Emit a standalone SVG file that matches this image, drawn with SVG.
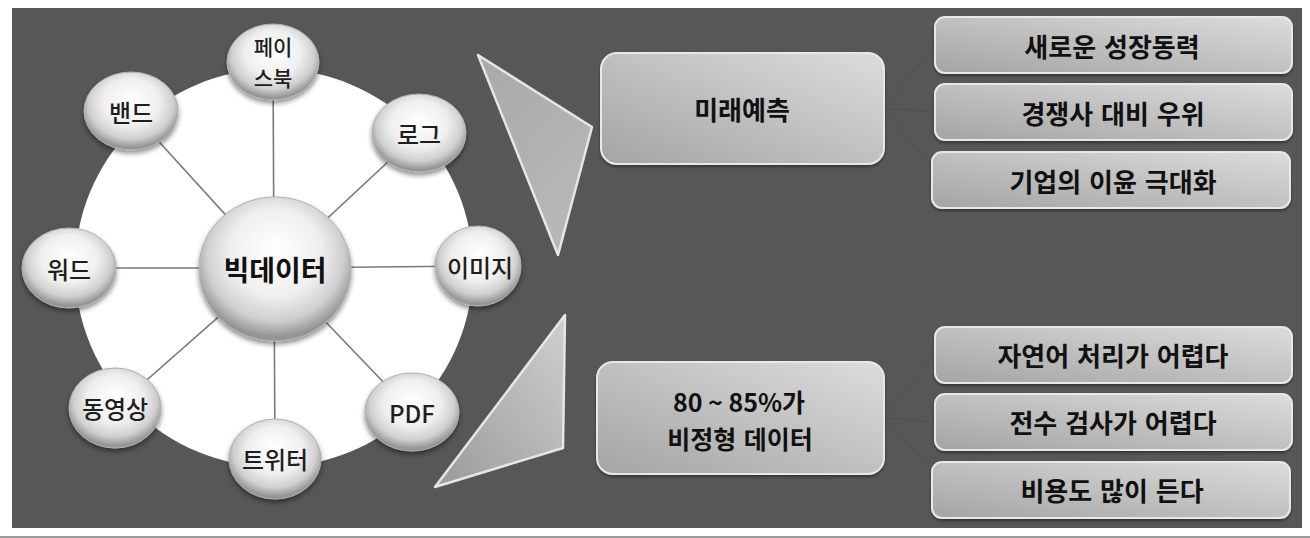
<svg xmlns="http://www.w3.org/2000/svg" width="1310" height="538" viewBox="0 0 1310 538">
<defs>
<radialGradient id="ball" cx="50%" cy="42%" r="55%" fx="50%" fy="35%">
<stop offset="0%" stop-color="#ffffff"/>
<stop offset="55%" stop-color="#efefef"/>
<stop offset="82%" stop-color="#cfcfcf"/>
<stop offset="100%" stop-color="#959595"/>
</radialGradient>
<linearGradient id="boxg" x1="1" y1="0" x2="0" y2="1">
<stop offset="0%" stop-color="#dcdcdc"/>
<stop offset="100%" stop-color="#a4a4a4"/>
</linearGradient>
<linearGradient id="tri1" x1="0" y1="0" x2="0.6" y2="1">
<stop offset="0%" stop-color="#a8a8a8"/>
<stop offset="100%" stop-color="#b8b8b8"/>
</linearGradient>
<linearGradient id="tri2" x1="0" y1="1" x2="1" y2="0">
<stop offset="0%" stop-color="#9a9a9a"/>
<stop offset="100%" stop-color="#cfcfcf"/>
</linearGradient>
<filter id="sh" x="-20%" y="-20%" width="140%" height="150%">
<feDropShadow dx="0" dy="3" stdDeviation="2.5" flood-color="#000" flood-opacity="0.45"/>
</filter>
<filter id="bsh" x="-5%" y="-10%" width="110%" height="130%">
<feDropShadow dx="0" dy="2" stdDeviation="1.5" flood-color="#000" flood-opacity="0.4"/>
</filter>
</defs>
<style>
.sat{fill:url(#ball);stroke:#b0b0b0;stroke-width:1;filter:url(#sh)}
.sat-t{font-family:"Noto Sans CJK KR","Noto Sans",sans-serif;font-size:24px;font-weight:500;fill:#1e1e1e;text-anchor:middle;dominant-baseline:central}
.box{fill:url(#boxg);stroke:#e8e8e8;stroke-width:2;filter:url(#bsh)}
.box-t{font-family:"Noto Sans CJK KR","Noto Sans",sans-serif;font-size:26px;font-weight:700;fill:#111;text-anchor:middle;dominant-baseline:central;word-spacing:2px}
.spoke{stroke:#7a7a7a;stroke-width:1.6}
.faint{stroke:#4f4f4f;stroke-width:1;fill:none}
.tri{stroke:#e6e6e6;stroke-width:2.5;stroke-linejoin:round}
</style>
<rect x="0" y="0" width="1310" height="538" fill="#ffffff"/>
<rect x="12" y="8" width="1290" height="520" fill="#575757"/>
<rect x="0" y="536" width="1310" height="2" fill="#9a9a9a"/>
<circle cx="274" cy="268" r="199" fill="#ffffff"/>

<g id="connectors">
<line class="spoke" x1="274" y1="268" x2="273" y2="62"/>
<line class="spoke" x1="274" y1="268" x2="131" y2="111"/>
<line class="spoke" x1="274" y1="268" x2="419" y2="133"/>
<line class="spoke" x1="274" y1="268" x2="69" y2="268"/>
<line class="spoke" x1="274" y1="268" x2="478" y2="266"/>
<line class="spoke" x1="274" y1="268" x2="115" y2="408"/>
<line class="spoke" x1="274" y1="268" x2="412" y2="412"/>
<line class="spoke" x1="274" y1="268" x2="275" y2="459"/>
<path class="faint" d="M884 108 L935 45 M884 108 L934 112 M884 108 L943 182"/>
<path class="faint" d="M884 418 L935 353 M884 418 L935 422 M884 418 L935 473"/>
</g>

<g id="arrow-upper"><polygon class="tri" fill="url(#tri1)" points="478,55 592,127 558,255"/></g>
<g id="arrow-lower"><polygon class="tri" fill="url(#tri2)" points="565,315 563,448 435,487"/></g>

<g id="node-center"><ellipse class="sat" cx="275" cy="269" rx="76" ry="72"/><text x="275" y="269" class="sat-t" style="font-size:28px;font-weight:700;fill:#111">빅데이터</text></g>
<g id="node-facebook"><ellipse class="sat" cx="273" cy="62" rx="46" ry="38"/><text x="273" y="46" class="sat-t" style="font-size:21px">페이</text><text x="273" y="77" class="sat-t" style="font-size:21px">스북</text></g>
<g id="node-band"><ellipse class="sat" cx="131" cy="111" rx="47" ry="39"/><text x="131" y="111" class="sat-t">밴드</text></g>
<g id="node-log"><ellipse class="sat" cx="419" cy="133" rx="47" ry="39"/><text x="419" y="133" class="sat-t">로그</text></g>
<g id="node-word"><ellipse class="sat" cx="69" cy="268" rx="47" ry="40"/><text x="69" y="268" class="sat-t">워드</text></g>
<g id="node-image"><ellipse class="sat" cx="478" cy="266" rx="43" ry="40"/><text x="480" y="266" class="sat-t">이미지</text></g>
<g id="node-video"><ellipse class="sat" cx="115" cy="408" rx="46" ry="40"/><text x="115" y="407" class="sat-t">동영상</text></g>
<g id="node-pdf"><ellipse class="sat" cx="412" cy="412" rx="47" ry="39"/><text x="412" y="412" class="sat-t">PDF</text></g>
<g id="node-twitter"><ellipse class="sat" cx="275" cy="459" rx="46" ry="40"/><text x="275" y="458" class="sat-t">트위터</text></g>

<g id="box-future"><rect class="box" x="601" y="53" width="283" height="111" rx="16"/><text x="742" y="108" class="box-t">미래예측</text></g>
<g id="box-unstructured"><rect class="box" x="597" y="362" width="287" height="112" rx="16"/><text x="739" y="401" class="box-t" style="word-spacing:0;font-size:25px">80 ~ 85%가</text><text x="740" y="438" class="box-t" style="font-size:25px">비정형 데이터</text></g>

<g id="box-r1"><rect class="box" x="935" y="17" width="357" height="56" rx="10"/><text x="1112" y="45" class="box-t">새로운 성장동력</text></g>
<g id="box-r2"><rect class="box" x="935" y="84" width="357" height="56" rx="10"/><text x="1113" y="112" class="box-t">경쟁사 대비 우위</text></g>
<g id="box-r3"><rect class="box" x="932" y="152" width="358" height="56" rx="10"/><text x="1113" y="180" class="box-t">기업의 이윤 극대화</text></g>
<g id="box-r4"><rect class="box" x="935" y="327" width="357" height="56" rx="10"/><text x="1113" y="354" class="box-t">자연어 처리가 어렵다</text></g>
<g id="box-r5"><rect class="box" x="935" y="394" width="357" height="56" rx="10"/><text x="1113" y="421" class="box-t">전수 검사가 어렵다</text></g>
<g id="box-r6"><rect class="box" x="932" y="462" width="358" height="56" rx="10"/><text x="1112" y="489" class="box-t">비용도 많이 든다</text></g>
</svg>
